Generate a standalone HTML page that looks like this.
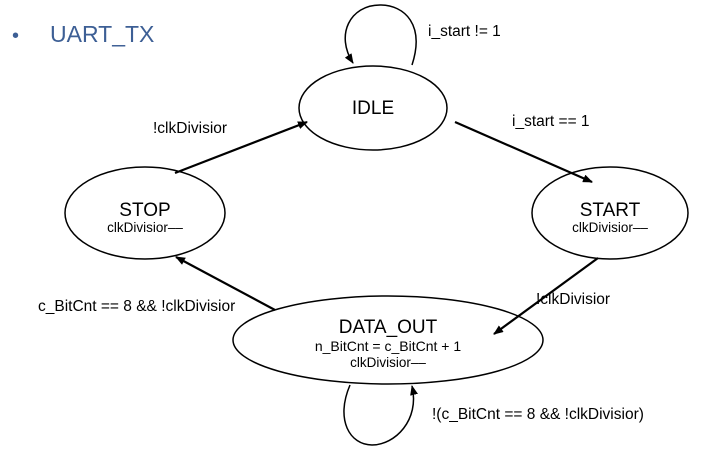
<!DOCTYPE html>
<html><head><style>
body{margin:0;background:#fff;}
svg text{font-family:"Liberation Sans",Arial,sans-serif;}
</style></head><body>
<svg width="711" height="450" viewBox="0 0 711 450" xmlns="http://www.w3.org/2000/svg">
<defs><marker id="a" markerWidth="10" markerHeight="8" refX="9" refY="4" orient="auto" markerUnits="userSpaceOnUse"><path d="M0,0 L10,4 L0,8 z" fill="#000"/></marker></defs>
<text x="12" y="42" font-size="20" fill="#3d5f95">•</text>
<text x="50" y="42" font-size="23" fill="#3d5f95">UART_TX</text>
<g fill="none" stroke="#000" stroke-width="1.5">
<ellipse cx="373" cy="108" rx="74" ry="42"/>
<ellipse cx="145" cy="213" rx="80" ry="46"/>
<ellipse cx="610" cy="213" rx="78" ry="46"/>
<ellipse cx="388" cy="340" rx="155" ry="44"/>
<path d="M412,65 C425,25 405,5 380,5 C350,5 335,35 353,63" marker-end="url(#a)"/>
<path d="M350,385 C335,420 350,445 372,445 C395,445 420,420 412,386" marker-end="url(#a)"/>
</g>
<g stroke="#000" stroke-width="2.2" marker-end="url(#a)">
<line x1="175" y1="173" x2="307" y2="122"/>
<line x1="455" y1="122" x2="592" y2="182"/>
<line x1="598" y1="258" x2="494" y2="334"/>
<line x1="275" y1="310" x2="176" y2="257"/>
</g>
<g font-size="15.5" fill="#000">
<text x="373" y="114" text-anchor="middle" font-size="19">IDLE</text>
<text x="145" y="216" text-anchor="middle" font-size="19">STOP</text>
<text x="145" y="232" text-anchor="middle" font-size="13.5">clkDivisior––</text>
<text x="610" y="216" text-anchor="middle" font-size="19">START</text>
<text x="610" y="232" text-anchor="middle" font-size="13.5">clkDivisior––</text>
<text x="388" y="333" text-anchor="middle" font-size="19">DATA_OUT</text>
<text x="388" y="351" text-anchor="middle" font-size="14">n_BitCnt = c_BitCnt + 1</text>
<text x="388" y="367" text-anchor="middle" font-size="13.5">clkDivisior––</text>
<text x="428" y="36">i_start != 1</text>
<text x="153" y="133">!clkDivisior</text>
<text x="512" y="126">i_start == 1</text>
<text x="536" y="304">!clkDivisior</text>
<text x="38" y="311">c_BitCnt == 8 &amp;&amp; !clkDivisior</text>
<text x="432" y="419">!(c_BitCnt == 8 &amp;&amp; !clkDivisior)</text>
</g>
</svg>
</body></html>
